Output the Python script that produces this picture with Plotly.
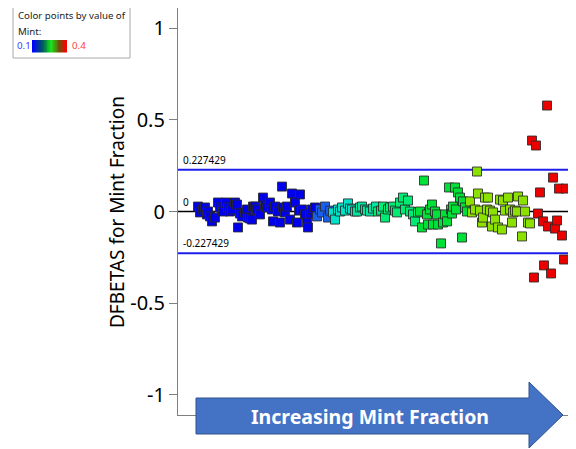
import plotly.graph_objects as go

W, H = 568, 441   # page is offset by the 8px body margin
OFF = 8

# ---- data: observation order, DFBETAS for Mint Fraction, Mint value ----
row = [8,10,13,15,17,18,20,22,25,28,30,32,33,36,38,40,42,45,47,48,50,52,55,57,58,60,62,63,65,67,70,73,75,77,80,82,83,85,88,90,92,93,95,97,100,102,105,107,109,110,112,115,117,118,120,122,125,
       127,130,132,135,138,140,
       143,145,148,150,152,155,158,160,162,165,
       167,170,172,175,177,180,183,186,
       188,191,193,195,198,200,203,205,207,210,213,215,218,220,223,225,228,
       230,232,234,237,238,240,242,243,245,247,248,251,253,255,257,259,261,262,263,265,266,268,270,272,273,275,277,
       280,282,285,287,288,290,292,293,295,297,298,300,302,303,305,308,310,312,313,315,318,320,322,323,325,327,328,332,333,335,338,340,
       342,344,346,348,350,353,354,357,358,361,363,365,367,369,372,374,376]
dfbetas = [0.027,-0.005,0.011,0.022,-0.016,0.000,-0.027,-0.054,-0.033,0.049,0.022,0.011,0.000,0.049,0.022,0.000,0.011,0.049,0.038,-0.087,-0.011,-0.027,-0.005,0.011,-0.033,-0.038,-0.044,0.027,0.027,0.011,-0.016,0.076,0.033,0.022,0.049,0.011,-0.054,0.027,0.000,-0.060,0.136,0.022,-0.005,0.027,-0.044,0.098,0.049,-0.060,0.005,0.093,0.011,-0.016,-0.060,-0.087,-0.011,0.011,0.022,
           -0.027,0.011,-0.005,0.027,-0.033,0.005,
           -0.005,-0.044,0.011,0.000,0.022,0.005,0.044,0.016,0.011,0.000,
           0.000,0.022,0.027,0.011,0.005,0.000,0.016,0.027,
           0.000,0.005,0.027,-0.033,0.011,0.022,0.027,0.005,-0.005,0.049,0.076,0.011,0.060,0.000,-0.016,-0.054,-0.005,
           0.000,-0.087,0.169,-0.016,-0.071,0.011,0.038,-0.071,0.000,-0.016,-0.071,-0.174,-0.060,-0.016,-0.054,0.131,0.011,-0.011,0.027,0.131,0.011,0.104,0.076,-0.142,0.055,0.022,0.000,
           0.055,-0.005,0.011,0.218,0.098,0.005,-0.060,-0.033,0.076,0.011,0.076,0.005,-0.082,-0.005,-0.044,-0.087,0.065,-0.098,0.060,0.005,0.076,0.011,-0.060,-0.005,0.005,0.000,0.082,-0.136,0.060,0.000,-0.060,-0.065,
           0.387,-0.360,0.360,-0.011,0.104,-0.054,-0.294,0.578,-0.082,-0.338,0.185,-0.093,-0.049,0.125,-0.131,-0.262,0.125]
mint = ([0.10]*57 + [0.13]*6 + [0.17]*10 + [0.19]*8 + [0.21]*17 + [0.24]*27 + [0.30]*32 + [0.40]*17)

cutoff = 0.227429
ytick_vals = [-1, -0.5, 0, 0.5, 1]
ytick_text = ["-1", "-0.5", "0", "0.5", "1"]
mint_min, mint_max = 0.1, 0.4

def px(x):
    return (x - OFF) / W

def py(y):
    return 1 - (y - OFF) / H

point_scale = [
    [0.0, "rgb(0,0,235)"],
    [0.1, "rgb(25,95,235)"],
    [0.233, "rgb(0,225,200)"],
    [0.3, "rgb(0,230,160)"],
    [0.367, "rgb(0,235,115)"],
    [0.467, "rgb(0,225,55)"],
    [0.667, "rgb(140,225,0)"],
    [0.85, "rgb(200,110,0)"],
    [1.0, "rgb(235,0,0)"],
]
legend_scale = [
    [0.0, "rgb(0,0,255)"],
    [0.3, "rgb(0,90,90)"],
    [0.55, "rgb(20,235,20)"],
    [0.78, "rgb(110,80,10)"],
    [1.0, "rgb(255,0,0)"],
]

fig = go.Figure()
fig.add_trace(go.Scatter(
    x=row, y=dfbetas, mode="markers",
    marker=dict(symbol="square", size=9, color=mint, colorscale=point_scale,
                cmin=mint_min, cmax=mint_max, showscale=False,
                line=dict(width=1, color="rgba(40,40,40,0.85)")),
    showlegend=False, hoverinfo="skip"))

# legend gradient bar
fig.add_trace(go.Heatmap(
    z=[[i / 40 for i in range(41)]], colorscale=legend_scale, showscale=False,
    xaxis="x2", yaxis="y2", hoverinfo="skip"))

fig.update_layout(
    width=W, height=H,
    margin=dict(l=0, r=0, t=0, b=0),
    paper_bgcolor="white", plot_bgcolor="white",
    font=dict(family="Noto Sans", color="black"),
    xaxis=dict(domain=[px(178), 1], range=[-12, 386], showticklabels=False, ticks="",
               showgrid=False, zeroline=False, showline=True, linecolor="#7f7f7f",
               linewidth=1.2, mirror=True),
    yaxis=dict(domain=[py(415), py(8)], range=[-1.11, 1.11], tickvals=ytick_vals,
               ticktext=ytick_text, ticks="outside", ticklen=8, tickcolor="#7f7f7f",
               tickfont=dict(size=20, color="black"), showgrid=False, zeroline=False,
               showline=True, linecolor="#7f7f7f", linewidth=1.2),
    xaxis2=dict(domain=[px(32), px(67)], anchor="y2", visible=False),
    yaxis2=dict(domain=[py(52.5), py(40)], anchor="x2", visible=False),
)

# reference lines
for yv, col, wd in [(cutoff, "rgb(30,30,235)", 2), (-cutoff, "rgb(30,30,235)", 2), (0, "black", 1.3)]:
    fig.add_shape(type="line", xref="x domain", yref="y", x0=0, x1=1, y0=yv, y1=yv,
                  line=dict(color=col, width=wd), layer="below")
for yv, lab in [(cutoff, "%g" % cutoff), (0, "0"), (-cutoff, "%g" % -cutoff)]:
    fig.add_annotation(x=px(181), xref="paper", y=yv, yref="y", text=lab, showarrow=False,
                       xanchor="left", yanchor="bottom", yshift=1,
                       font=dict(size=10, color="black"))

# y axis title
fig.add_annotation(x=px(117), y=py(212), xref="paper", yref="paper",
                   xanchor="center", yanchor="middle",
                   text="DFBETAS for Mint Fraction", textangle=-90, showarrow=False,
                   font=dict(size=19, color="black"))

# legend box
fig.add_shape(type="rect", xref="paper", yref="paper", x0=px(13), x1=px(130), y0=py(58), y1=py(5),
              line=dict(color="#a8a8a8", width=1), fillcolor="white", layer="below")
for txt, xx, yy, col in [("Color points by value of", 15.5, 16, "#222"),
                         ("Mint:", 15.5, 32, "#222"),
                         ("%g" % mint_min, 14.5, 46, "#3a3aff"),
                         ("%g" % mint_max, 69.5, 46, "#ff3a3a")]:
    fig.add_annotation(x=px(xx), y=py(yy), xref="paper", yref="paper", text=txt,
                       showarrow=False, xanchor="left", yanchor="middle",
                       font=dict(size=9.7, color=col))

# arrow
pts = [(196, 398), (529, 398), (529, 382), (563, 415), (529, 448), (529, 434), (196, 434)]
path = "M " + " L ".join("%f,%f" % (px(a), py(b)) for a, b in pts) + " Z"
fig.add_shape(type="path", xref="paper", yref="paper", path=path,
              fillcolor="#4472C4", line=dict(color="#2F528F", width=1))
fig.add_annotation(x=px(370), y=py(416), xref="paper", yref="paper",
                   xanchor="center", yanchor="middle",
                   text="<b>Increasing Mint Fraction</b>", showarrow=False,
                   font=dict(size=19.5, color="white"))

fig.write_html("out.html")
